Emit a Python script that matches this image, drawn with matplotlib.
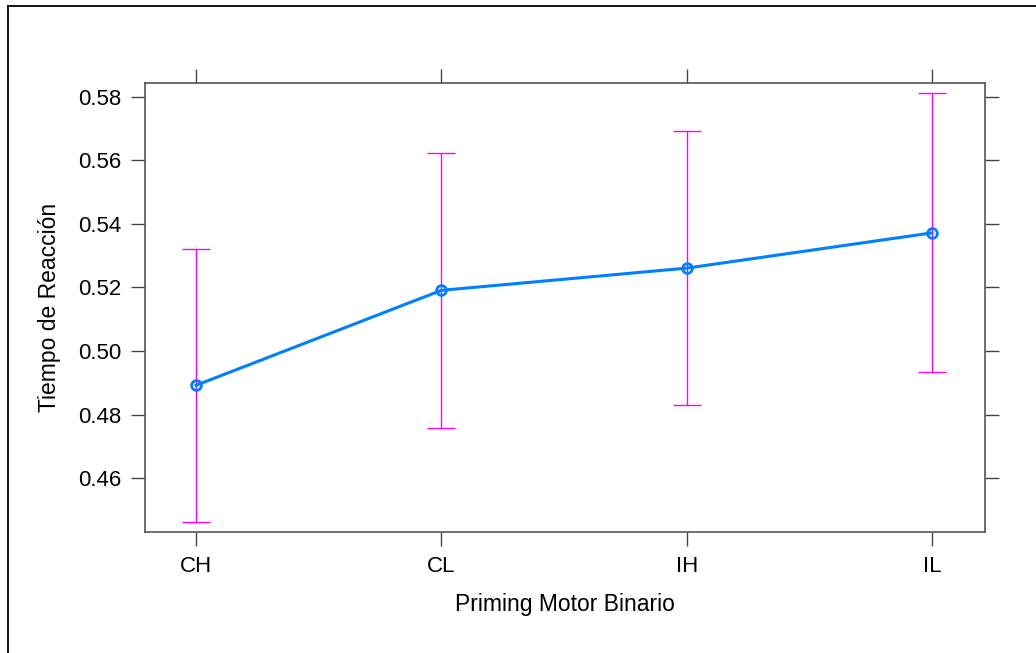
import matplotlib
matplotlib.use('Agg')
import matplotlib.pyplot as plt
import numpy as np

plt.rcParams['font.family'] = ['Liberation Sans', 'DejaVu Sans']

niveles = ['CH', 'CL', 'IH', 'IL']
media = [0.4892, 0.5191, 0.5261, 0.5372]
inferior = [0.4463, 0.4756, 0.4830, 0.4933]
superior = [0.5320, 0.5624, 0.5692, 0.5812]

fig = plt.figure(figsize=(10.36, 6.53), dpi=100)

# marco exterior (solo izquierda y arriba, como la captura)
fig.add_artist(plt.Line2D([0.0078, 0.0078], [0, 0.991], color='black', lw=1.3))
fig.add_artist(plt.Line2D([0.0078, 1.0], [0.991, 0.991], color='black', lw=1.3))

ax = fig.add_axes([145/1036, 1-532/653, (985-145)/1036, (532-83)/653])
x = np.arange(len(niveles))

ax.errorbar(x, media,
            yerr=[np.array(media)-np.array(inferior), np.array(superior)-np.array(media)],
            fmt='none', ecolor='#FF00FF', elinewidth=1, capsize=10, capthick=1)
ax.plot(x, media, color='#0080FF', lw=2.2, marker='o', ms=7,
        mfc='none', mec='#0080FF', mew=2)

ax.set_xlim(-0.208, 3.216)
ax.set_ylim(0.443, 0.5844)
ax.set_xticks(x)
ax.set_xticklabels(niveles)
ax.set_yticks([0.46, 0.48, 0.50, 0.52, 0.54, 0.56, 0.58])
ax.set_yticklabels(['0.46', '0.48', '0.50', '0.52', '0.54', '0.56', '0.58'])

ax.tick_params(axis='both', direction='out', length=10, width=1, color='#444444',
               labelsize=16, pad=7, top=True, right=True)
for s in ax.spines.values():
    s.set_color('#555555')
    s.set_linewidth(1.2)

ax.set_xlabel('Priming Motor Binario', fontsize=16.5, labelpad=12)
ax.set_ylabel('Tiempo de Reacción', fontsize=16.5, labelpad=12)

fig.savefig('out.png', dpi=100)
